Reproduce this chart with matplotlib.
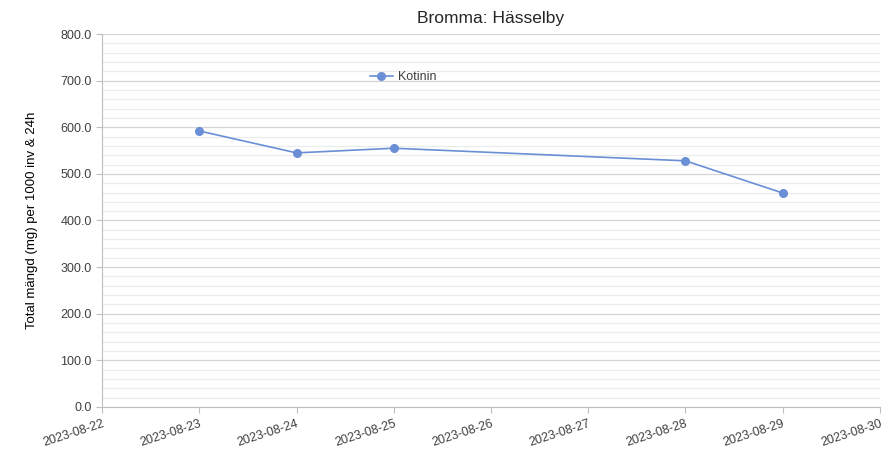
import numpy as np
import pandas as pd
import matplotlib
matplotlib.use("Agg")
import matplotlib.pyplot as plt
import matplotlib.dates as mdates
from matplotlib.ticker import MultipleLocator

dates = ["2023-08-23", "2023-08-24", "2023-08-25", "2023-08-28", "2023-08-29"]
kotinin = [592, 545, 555, 528, 459]
tick_dates = pd.date_range("2023-08-22", "2023-08-30")

plt.rcParams["font.family"] = ["Liberation Sans", "DejaVu Sans"]

fig = plt.figure(figsize=(8.96, 4.51), dpi=100)
ax = fig.add_axes([0.114, 0.0976, 0.868, 0.827])

x = pd.to_datetime(dates)
ax.plot(x, kotinin, color="#6a8fd6", lw=1.2, marker="o", ms=5.5, label="Kotinin", zorder=3)

ax.set_ylim(0, 800)
ax.set_xlim(tick_dates[0], tick_dates[-1])
ax.yaxis.set_major_locator(MultipleLocator(100))
ax.yaxis.set_minor_locator(MultipleLocator(20))
ax.yaxis.set_major_formatter(matplotlib.ticker.FormatStrFormatter("%.1f"))
ax.grid(axis="y", which="major", color="#d4d4d4", lw=0.9)
ax.grid(axis="y", which="minor", color="#ececec", lw=0.9)
ax.set_axisbelow(True)

ax.set_xticks(tick_dates)
ax.xaxis.set_major_formatter(mdates.DateFormatter("%Y-%m-%d"))
for lab in ax.get_xticklabels():
    lab.set_rotation(18)
    lab.set_ha("right")
    lab.set_rotation_mode("anchor")

for s in ["top", "right"]:
    ax.spines[s].set_visible(False)
for s in ["left", "bottom"]:
    ax.spines[s].set_color("#bfbfbf")
ax.tick_params(axis="both", which="major", colors="#bfbfbf", labelcolor="#404040", labelsize=9, length=4)
ax.tick_params(axis="y", which="minor", length=0)

ax.set_ylabel("Total mängd (mg) per 1000 inv & 24h", fontsize=9.5, color="black", labelpad=16)
ax.set_title("Bromma: Hässelby", fontsize=12.5, color="#262626", pad=8)

ax.legend(loc="upper left", bbox_to_anchor=(0.33, 0.93), frameon=False, fontsize=9,
          handlelength=1.8, handletextpad=0.4, labelcolor="#404040")

fig.savefig("out.png", dpi=100)
